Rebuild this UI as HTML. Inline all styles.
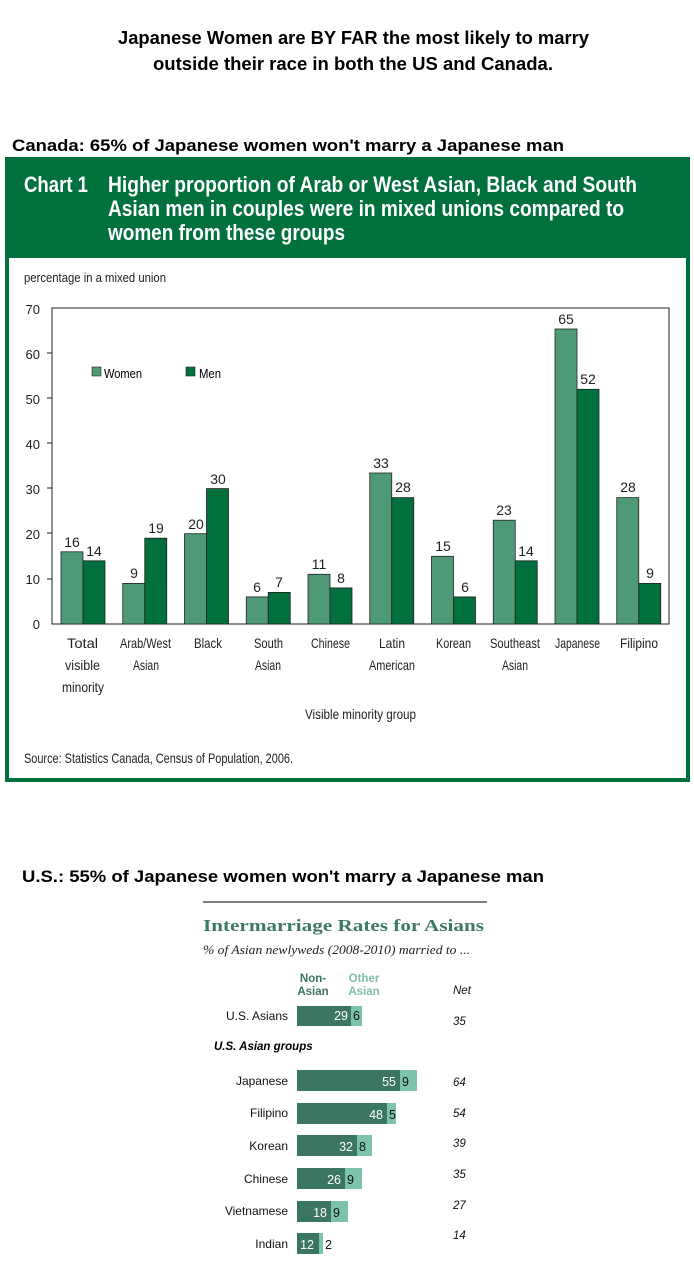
<!DOCTYPE html>
<html><head><meta charset="utf-8"><style>
html,body{margin:0;padding:0;background:#fff;width:694px;height:1288px;overflow:hidden}
svg{display:block}
.n{font-family:"Liberation Sans",sans-serif}
</style></head><body>
<svg width="694" height="1288" viewBox="0 0 694 1288" xmlns="http://www.w3.org/2000/svg">
<g font-family="Liberation Sans, sans-serif" font-weight="bold" font-size="18" fill="#000">
<text x="118" y="44" textLength="471" lengthAdjust="spacingAndGlyphs">Japanese Women are BY FAR the most likely to marry</text>
<text x="153" y="70" textLength="400" lengthAdjust="spacingAndGlyphs">outside their race in both the US and Canada.</text>
</g>
<text x="12" y="151" font-family="Liberation Sans, sans-serif" font-weight="bold" font-size="17" textLength="552" lengthAdjust="spacingAndGlyphs">Canada: 65% of Japanese women won't marry a Japanese man</text>
<rect x="5" y="157" width="685" height="625" fill="#00703c"/>
<rect x="9" y="258" width="677" height="520" fill="#fff"/>
<g class="n" font-weight="bold" font-size="22" fill="#fff">
<text x="24" y="192" textLength="64" lengthAdjust="spacingAndGlyphs">Chart 1</text>
<text x="108" y="192" textLength="529" lengthAdjust="spacingAndGlyphs">Higher proportion of Arab or West Asian, Black and South</text>
<text x="108" y="216" textLength="516" lengthAdjust="spacingAndGlyphs">Asian men in couples were in mixed unions compared to</text>
<text x="108" y="240" textLength="237" lengthAdjust="spacingAndGlyphs">women from these groups</text>
</g>
<g class="n" font-size="13" fill="#222">
<text x="24" y="282" textLength="142" lengthAdjust="spacingAndGlyphs">percentage in a mixed union</text>
<g text-anchor="end">
<text x="40" y="314">70</text><text x="40" y="359">60</text><text x="40" y="404">50</text><text x="40" y="449">40</text><text x="40" y="494">30</text><text x="40" y="539">20</text><text x="40" y="584">10</text><text x="40" y="629">0</text>
</g>
</g>
<rect x="52" y="308" width="617" height="316" fill="none" stroke="#222" stroke-width="1"/>
<g stroke="#222"><line x1="47" y1="353" x2="52" y2="353"/><line x1="47" y1="398" x2="52" y2="398"/><line x1="47" y1="443" x2="52" y2="443"/><line x1="47" y1="488" x2="52" y2="488"/><line x1="47" y1="533" x2="52" y2="533"/><line x1="47" y1="579" x2="52" y2="579"/></g>
<rect x="92" y="367" width="9" height="9" fill="#4e9a76" stroke="#222" stroke-width="0.6"/>
<text class="n" x="104" y="378" font-size="13" textLength="38" lengthAdjust="spacingAndGlyphs">Women</text>
<rect x="186" y="367" width="9" height="9" fill="#00703c" stroke="#222" stroke-width="0.6"/>
<text class="n" x="199" y="378" font-size="13" textLength="22" lengthAdjust="spacingAndGlyphs">Men</text>
<g stroke="#222" stroke-width="0.8">
<rect x="61" y="551.8" width="22" height="72.2" fill="#4e9a76"/><rect x="83" y="560.8" width="22" height="63.2" fill="#00703c"/>
<rect x="122.75" y="583.4" width="22" height="40.6" fill="#4e9a76"/><rect x="144.75" y="538.2" width="22" height="85.8" fill="#00703c"/>
<rect x="184.5" y="533.7" width="22" height="90.3" fill="#4e9a76"/><rect x="206.5" y="488.6" width="22" height="135.4" fill="#00703c"/>
<rect x="246.25" y="596.9" width="22" height="27.1" fill="#4e9a76"/><rect x="268.25" y="592.4" width="22" height="31.6" fill="#00703c"/>
<rect x="308" y="574.3" width="22" height="49.7" fill="#4e9a76"/><rect x="330" y="587.9" width="22" height="36.1" fill="#00703c"/>
<rect x="369.75" y="473" width="22" height="151" fill="#4e9a76"/><rect x="391.75" y="497.6" width="22" height="126.4" fill="#00703c"/>
<rect x="431.5" y="556.3" width="22" height="67.7" fill="#4e9a76"/><rect x="453.5" y="596.9" width="22" height="27.1" fill="#00703c"/>
<rect x="493.25" y="520.2" width="22" height="103.8" fill="#4e9a76"/><rect x="515.25" y="560.8" width="22" height="63.2" fill="#00703c"/>
<rect x="555" y="329" width="22" height="295" fill="#4e9a76"/><rect x="577" y="389.3" width="22" height="234.7" fill="#00703c"/>
<rect x="616.75" y="497.6" width="22" height="126.4" fill="#4e9a76"/><rect x="638.75" y="583.4" width="22" height="40.6" fill="#00703c"/>
</g>
<g class="n" font-size="14" text-anchor="middle" fill="#222">
<text x="72" y="547">16</text><text x="94" y="556">14</text>
<text x="134" y="578">9</text><text x="156" y="533">19</text>
<text x="196" y="529">20</text><text x="218" y="484">30</text>
<text x="257" y="592">6</text><text x="279" y="587">7</text>
<text x="319" y="569">11</text><text x="341" y="583">8</text>
<text x="381" y="468">33</text><text x="403" y="492">28</text>
<text x="443" y="551">15</text><text x="465" y="592">6</text>
<text x="504" y="515">23</text><text x="526" y="556">14</text>
<text x="566" y="324">65</text><text x="588" y="384">52</text>
<text x="628" y="492">28</text><text x="650" y="578">9</text>
</g>
<g class="n" font-size="14" fill="#222" lengthAdjust="spacingAndGlyphs">
<text x="67" y="648" textLength="31" lengthAdjust="spacingAndGlyphs">Total</text><text x="65" y="670" textLength="35" lengthAdjust="spacingAndGlyphs">visible</text><text x="62" y="692" textLength="42" lengthAdjust="spacingAndGlyphs">minority</text>
<text x="120" y="648" textLength="51" lengthAdjust="spacingAndGlyphs">Arab/West</text><text x="133" y="670" textLength="26" lengthAdjust="spacingAndGlyphs">Asian</text>
<text x="194" y="648" textLength="28" lengthAdjust="spacingAndGlyphs">Black</text>
<text x="254" y="648" textLength="29" lengthAdjust="spacingAndGlyphs">South</text><text x="255" y="670" textLength="26" lengthAdjust="spacingAndGlyphs">Asian</text>
<text x="311" y="648" textLength="39" lengthAdjust="spacingAndGlyphs">Chinese</text>
<text x="379" y="648" textLength="26" lengthAdjust="spacingAndGlyphs">Latin</text><text x="369" y="670" textLength="46" lengthAdjust="spacingAndGlyphs">American</text>
<text x="436" y="648" textLength="35" lengthAdjust="spacingAndGlyphs">Korean</text>
<text x="490" y="648" textLength="50" lengthAdjust="spacingAndGlyphs">Southeast</text><text x="502" y="670" textLength="26" lengthAdjust="spacingAndGlyphs">Asian</text>
<text x="555" y="648" textLength="45" lengthAdjust="spacingAndGlyphs">Japanese</text>
<text x="620" y="648" textLength="38" lengthAdjust="spacingAndGlyphs">Filipino</text>
<text x="305" y="719" textLength="111" lengthAdjust="spacingAndGlyphs">Visible minority group</text>
</g>
<text class="n" x="24" y="763" font-size="14" fill="#222" textLength="269" lengthAdjust="spacingAndGlyphs">Source: Statistics Canada, Census of Population, 2006.</text>

<text x="22" y="882" font-family="Liberation Sans, sans-serif" font-weight="bold" font-size="17" textLength="522" lengthAdjust="spacingAndGlyphs">U.S.: 55% of Japanese women won't marry a Japanese man</text>
<line x1="203" y1="902" x2="487" y2="902" stroke="#000" stroke-width="1"/>
<text x="203" y="931" font-family="Liberation Serif, serif" font-weight="bold" font-size="17" fill="#3d7a66" textLength="281" lengthAdjust="spacingAndGlyphs">Intermarriage Rates for Asians</text>
<text x="203" y="954" font-family="Liberation Serif, serif" font-style="italic" font-size="12.5" fill="#222" textLength="267" lengthAdjust="spacingAndGlyphs">% of Asian newlyweds (2008-2010) married to ...</text>
<g font-family="Liberation Sans, sans-serif" font-weight="bold" font-size="11.5" text-anchor="middle">
<text x="313" y="982" fill="#3a7563">Non-</text><text x="313" y="995" fill="#3a7563">Asian</text>
<text x="364" y="982" fill="#7fc0ac">Other</text><text x="364" y="995" fill="#7fc0ac">Asian</text>
</g>
<g font-family="Liberation Sans, sans-serif" font-style="italic" font-size="11.5" fill="#111">
<text x="453" y="994">Net</text>
<text x="453" y="1025">35</text><text x="453" y="1086">64</text><text x="453" y="1117">54</text><text x="453" y="1147">39</text><text x="453" y="1178">35</text><text x="453" y="1209">27</text><text x="453" y="1239">14</text>
</g>
<text x="214" y="1050" font-family="Liberation Sans, sans-serif" font-style="italic" font-weight="bold" font-size="11.5">U.S. Asian groups</text>
<g font-family="Liberation Sans, sans-serif" font-size="12" fill="#111" text-anchor="end">
<text x="288" y="1020">U.S. Asians</text><text x="288" y="1085">Japanese</text><text x="288" y="1117">Filipino</text><text x="288" y="1150">Korean</text><text x="288" y="1183">Chinese</text><text x="288" y="1215">Vietnamese</text><text x="288" y="1248">Indian</text>
</g>
<g>
<rect x="297" y="1006" width="54" height="20" fill="#3b7563"/><rect x="351" y="1006" width="11" height="20" fill="#7dc2ad"/>
<rect x="297" y="1070" width="103" height="21" fill="#3b7563"/><rect x="400" y="1070" width="17" height="21" fill="#7dc2ad"/>
<rect x="297" y="1103" width="90" height="21" fill="#3b7563"/><rect x="387" y="1103" width="9" height="21" fill="#7dc2ad"/>
<rect x="297" y="1135" width="60" height="21" fill="#3b7563"/><rect x="357" y="1135" width="15" height="21" fill="#7dc2ad"/>
<rect x="297" y="1168" width="48" height="21" fill="#3b7563"/><rect x="345" y="1168" width="17" height="21" fill="#7dc2ad"/>
<rect x="297" y="1201" width="34" height="21" fill="#3b7563"/><rect x="331" y="1201" width="17" height="21" fill="#7dc2ad"/>
<rect x="297" y="1233" width="22" height="21" fill="#3b7563"/><rect x="319" y="1233" width="4" height="21" fill="#7dc2ad"/>
</g>
<g font-family="Liberation Sans, sans-serif" font-size="12.5" fill="#fff" text-anchor="end">
<text x="348" y="1020">29</text><text x="396" y="1086">55</text><text x="383" y="1119">48</text><text x="353" y="1151">32</text><text x="341" y="1184">26</text><text x="327" y="1217">18</text><text x="314" y="1249">12</text>
</g>
<g font-family="Liberation Sans, sans-serif" font-size="12.5" fill="#111">
<text x="353" y="1020">6</text><text x="402" y="1086">9</text><text x="389" y="1119">5</text><text x="359" y="1151">8</text><text x="347" y="1184">9</text><text x="333" y="1217">9</text><text x="325" y="1249">2</text>
</g>
</svg>
</body></html>
